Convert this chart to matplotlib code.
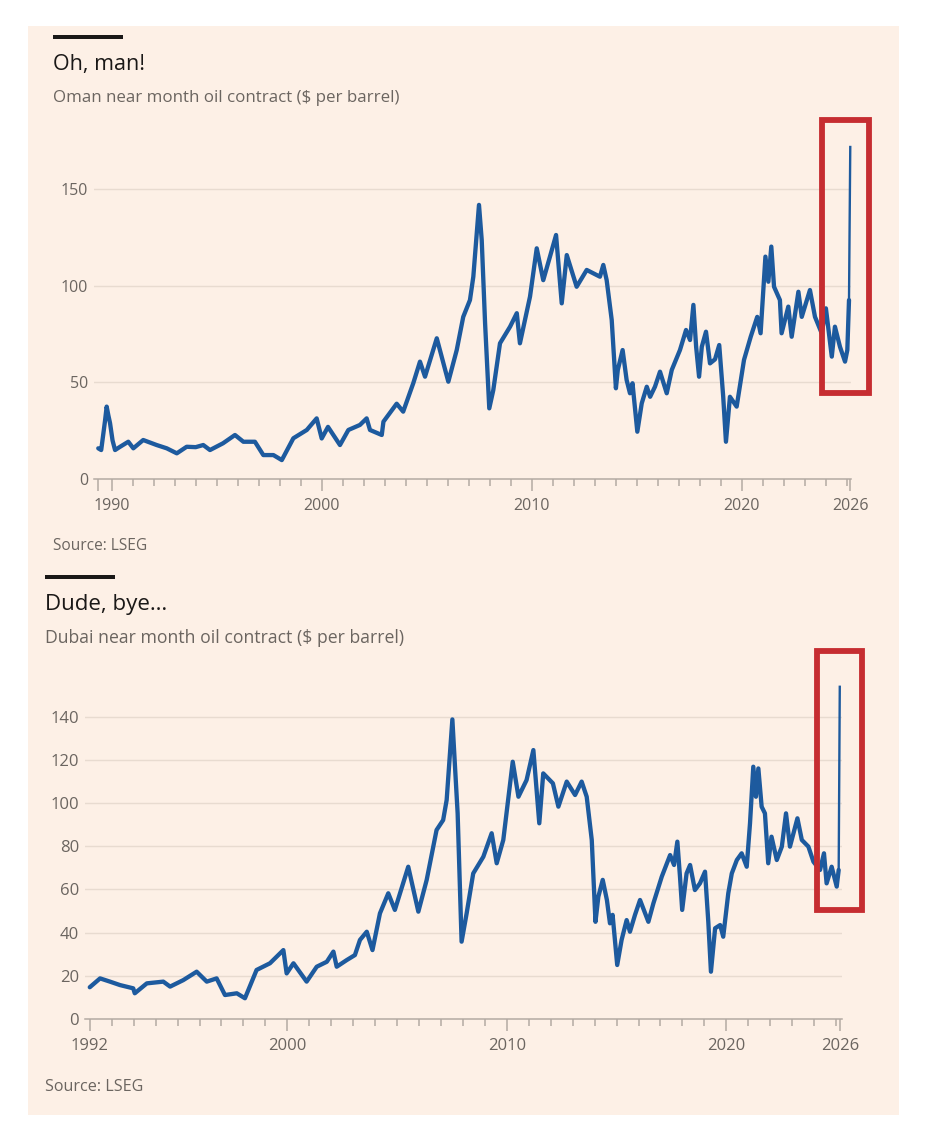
import matplotlib
matplotlib.use("Agg")
import matplotlib.pyplot as plt
from matplotlib.patches import Rectangle

plt.rcParams['font.family'] = ['Open Sans', 'DejaVu Sans']

# Oman near month contract, $ per barrel (x in the chart's own year scale)
oman_year = [1989.36, 1989.50, 1989.68, 1989.76, 1989.84, 1989.92, 1990.04, 1990.16, 1990.40, 1990.79,
             1991.03, 1991.50, 1992.14, 1992.62, 1993.10, 1993.57, 1994.00, 1994.36, 1994.68, 1995.30,
             1995.87, 1996.27, 1996.82, 1997.22, 1997.70, 1998.10, 1998.65, 1999.29, 1999.76, 2000.00,
             2000.30, 2000.87, 2001.27, 2001.82, 2002.14, 2002.30, 2002.86, 2002.94, 2003.57, 2003.88,
             2004.36, 2004.68, 2004.92, 2005.48, 2006.03, 2006.43, 2006.74, 2007.06, 2007.22, 2007.49,
             2007.62, 2007.78, 2007.98, 2008.17, 2008.49, 2008.97, 2009.29, 2009.44, 2009.92, 2010.24,
             2010.55, 2010.87, 2011.16, 2011.43, 2011.67, 2012.14, 2012.62, 2013.25, 2013.41, 2013.57,
             2013.81, 2014.01, 2014.10, 2014.33, 2014.52, 2014.68, 2014.80, 2015.03, 2015.24, 2015.48,
             2015.64, 2015.87, 2016.11, 2016.43, 2016.67, 2017.06, 2017.35, 2017.54, 2017.70, 2017.83,
             2017.97, 2018.10, 2018.30, 2018.49, 2018.73, 2018.93, 2019.12, 2019.25, 2019.44, 2019.76,
             2020.11, 2020.43, 2020.74, 2020.90, 2021.13, 2021.27, 2021.41, 2021.54, 2021.82, 2021.90,
             2022.22, 2022.38, 2022.70, 2022.86, 2023.25, 2023.49, 2023.81, 2024.01, 2024.29, 2024.44,
             2024.68, 2024.92, 2025.03, 2025.11, 2025.17]
oman_price = [15.9, 15.0, 30.0, 37.5, 33.0, 29.0, 20.0, 15.0, 16.7, 19.3,
              15.9, 20.2, 17.6, 15.9, 13.3, 16.7, 16.5, 17.6, 15.0, 18.5,
              22.8, 19.3, 19.3, 12.4, 12.4, 9.8, 21.1, 25.4, 31.4, 21.0,
              27.0, 17.6, 25.4, 28.0, 31.4, 25.4, 22.8, 29.7, 39.0, 34.9,
              49.6, 60.8, 53.0, 72.9, 50.4, 66.8, 84.0, 92.7, 104.8, 142.0,
              123.8, 80.7, 36.6, 46.0, 70.3, 78.9, 85.9, 70.3, 94.5, 119.5,
              103.0, 115.2, 126.4, 91.0, 116.0, 99.6, 108.3, 104.8, 110.9, 103.0,
              82.4, 47.0, 56.5, 66.8, 51.3, 44.4, 49.6, 24.5, 39.2, 47.8,
              42.6, 47.8, 55.6, 44.4, 56.5, 66.8, 77.2, 72.0, 90.2, 68.5,
              53.0, 68.5, 76.3, 59.9, 62.0, 69.4, 42.6, 19.3, 42.6, 37.5,
              61.7, 73.7, 84.0, 75.5, 115.2, 102.2, 120.4, 99.6, 92.7, 75.5,
              89.3, 73.7, 97.0, 84.0, 97.9, 84.0, 75.5, 88.4, 63.4, 78.9,
              68.5, 60.8, 66.8, 92.7, 172.0]

# Dubai near month contract, $ per barrel
dubai_year = [1991.00, 1991.47, 1991.92, 1992.38, 1992.98, 1993.05, 1993.60, 1994.35, 1994.66, 1995.26,
              1995.87, 1996.33, 1996.78, 1997.16, 1997.70, 1998.07, 1998.60, 1999.21, 1999.82, 1999.97,
              2000.28, 2000.88, 2001.34, 2001.80, 2002.10, 2002.25, 2002.71, 2003.08, 2003.31, 2003.62,
              2003.88, 2004.22, 2004.60, 2004.90, 2005.51, 2005.97, 2006.35, 2006.80, 2007.10, 2007.26,
              2007.52, 2007.64, 2007.76, 2007.94, 2008.17, 2008.47, 2008.93, 2009.31, 2009.54, 2009.84,
              2010.27, 2010.53, 2010.90, 2011.21, 2011.48, 2011.66, 2012.10, 2012.35, 2012.73, 2013.11,
              2013.41, 2013.64, 2013.87, 2014.04, 2014.17, 2014.37, 2014.56, 2014.70, 2014.82, 2015.03,
              2015.23, 2015.46, 2015.61, 2015.84, 2016.07, 2016.45, 2016.68, 2017.06, 2017.44, 2017.62,
              2017.77, 2017.89, 2017.99, 2018.19, 2018.35, 2018.57, 2018.80, 2019.03, 2019.18, 2019.30,
              2019.49, 2019.72, 2019.86, 2020.09, 2020.25, 2020.48, 2020.70, 2020.93, 2021.08, 2021.23,
              2021.35, 2021.46, 2021.61, 2021.76, 2021.91, 2022.06, 2022.30, 2022.53, 2022.72, 2022.90,
              2023.24, 2023.44, 2023.74, 2023.97, 2024.27, 2024.45, 2024.57, 2024.80, 2025.03, 2025.12,
              2025.17]
dubai_price = [14.7, 18.8, 17.3, 15.7, 14.2, 11.9, 16.5, 17.3, 15.0, 18.0,
               21.9, 17.3, 18.8, 11.1, 11.9, 9.6, 22.7, 25.8, 31.9, 21.1,
               25.8, 17.3, 24.2, 26.5, 31.2, 24.2, 27.3, 29.6, 36.6, 40.4,
               31.9, 48.9, 58.2, 50.5, 70.5, 49.7, 64.4, 87.5, 92.1, 101.4,
               138.7, 116.8, 95.2, 35.8, 48.9, 67.4, 75.1, 86.0, 72.1, 82.9,
               119.1, 102.9, 110.6, 124.5, 90.6, 113.7, 109.1, 98.3, 109.9, 103.7,
               109.9, 102.9, 82.9, 45.0, 56.6, 64.4, 55.1, 44.3, 48.2, 25.0,
               36.6, 45.8, 40.4, 48.2, 55.1, 45.0, 53.6, 65.9, 75.9, 71.3,
               82.1, 65.9, 50.5, 67.4, 71.3, 59.7, 62.8, 68.2, 45.0, 21.9,
               42.0, 43.5, 38.1, 58.2, 67.4, 73.6, 76.7, 70.5, 90.6, 116.8,
               102.9, 116.0, 98.3, 95.2, 72.1, 84.4, 73.6, 79.8, 95.2, 79.8,
               92.9, 82.9, 79.8, 72.8, 69.0, 76.7, 62.8, 70.5, 61.3, 69.0,
               153.8]

panels = [
    dict(title="Oh, man!", sub="Oman near month oil contract ($ per barrel)",
         x=oman_year, y=oman_price, yticks=[0, 50, 100, 150],
         first_tick=1989.36, first_label="", majors=[1990, 2000, 2010, 2020],
         end=2025.17, box=(2023.82, 44.4, 2026.08, 186.2),
         ax_px=(94, 130, 851, 479), xlim=(1989.157, 2025.205), ylim=(0, 180.8),
         bar=(53, 37), title_y=70, sub_y=102, src_y=550, fs=1.0),
    dict(title="Dude, bye\u2026", sub="Dubai near month oil contract ($ per barrel)",
         x=dubai_year, y=dubai_price, yticks=[0, 20, 40, 60, 80, 100, 120, 140],
         first_tick=1991.0, first_label="1992", majors=[2000, 2010, 2020],
         end=2025.17, box=(2024.11, 50.6, 2026.2, 170.3),
         ax_px=(85, 660, 842, 1019), xlim=(1990.783, 2025.271), ylim=(0, 166.2),
         bar=(45, 577), title_y=610, sub_y=643, src_y=1091, fs=1.04),
]

W, H = 930, 1130
BG = '#fdf0e6'
BLUE = '#1d5a9e'
GREY = '#6b6560'

fig = plt.figure(figsize=(W / 100, H / 100), dpi=100, facecolor='white')
fig.add_artist(Rectangle((28 / W, 1 - 1115 / H), 871 / W, 1089 / H,
                         transform=fig.transFigure, facecolor=BG, edgecolor='none', zorder=0))

for p in panels:
    l, t, r, b = p['ax_px']
    ax = fig.add_axes([l / W, 1 - b / H, (r - l) / W, (b - t) / H])
    ax.set_facecolor('none')
    ax.set_xlim(*p['xlim'])
    ax.set_ylim(*p['ylim'])
    s = p['fs']

    n = len(p['x'])
    ax.plot(p['x'][:n - 1], p['y'][:n - 1], color=BLUE, lw=3.1, solid_joinstyle='round',
            solid_capstyle='round', clip_on=False, zorder=3)
    ax.plot(p['x'][n - 3:], p['y'][n - 3:], color=BLUE, lw=1.7, clip_on=False, zorder=3)

    ax.set_yticks(p['yticks'])
    ax.set_yticklabels([str(v) for v in p['yticks']])
    ax.tick_params(axis='y', length=0, pad=4.3, labelsize=11.5 * s, labelcolor=GREY)
    for v in p['yticks'][1:]:
        ax.axhline(v, color='#e8dbd0', lw=1.0, zorder=1)

    majors = [p['first_tick']] + p['majors'] + [p['end']]
    labels = [p['first_label']] + [str(m) for m in p['majors']] + ['2026']
    ax.set_xticks(majors)
    ax.set_xticklabels(labels)
    minors = [yr for yr in range(int(p['first_tick']) + 1, 2026) if yr not in majors]
    ax.set_xticks(minors, minor=True)
    ax.tick_params(axis='x', which='major', length=8.5, width=1.1, color='#b3aaa3',
                   pad=5.0, labelsize=11.5 * s, labelcolor=GREY)
    ax.tick_params(axis='x', which='minor', length=5, width=1.1, color='#b3aaa3')

    for side in ['top', 'right', 'left']:
        ax.spines[side].set_visible(False)
    ax.spines['bottom'].set_color('#b3aaa3')
    ax.spines['bottom'].set_linewidth(1.1)

    x0, y0, x1, y1 = p['box']
    ax.add_patch(Rectangle((x0, y0), x1 - x0, y1 - y0, fill=False, edgecolor='#c62d31',
                           lw=4.2, clip_on=False, zorder=4))

    bx, by = p['bar']
    fig.add_artist(Rectangle((bx / W, 1 - (by + 2) / H), 70 / W, 4 / H, transform=fig.transFigure,
                             facecolor='#1a1817', edgecolor='none'))
    fig.text(bx / W, 1 - p['title_y'] / H, p['title'], fontsize=15.5 * s, color='#1a1817',
             va='baseline', ha='left')
    fig.text(bx / W, 1 - p['sub_y'] / H, p['sub'], fontsize=12.2 * s, color=GREY,
             va='baseline', ha='left')
    fig.text(bx / W, 1 - p['src_y'] / H, "Source: LSEG", fontsize=11.2 * s, color=GREY,
             va='baseline', ha='left')

fig.savefig('out.png', dpi=100, facecolor='white')
